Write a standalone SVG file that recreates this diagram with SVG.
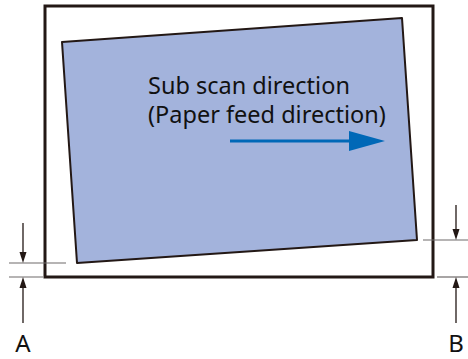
<svg xmlns="http://www.w3.org/2000/svg" width="468" height="359" viewBox="0 0 468 359">
<style>
.frame{fill:#fff;stroke:#231815;stroke-width:3}
.paper{fill:#a3b3dc;stroke:#231815;stroke-width:2;stroke-linejoin:round}
.ext{stroke:#6e6a6a;stroke-width:1.2;fill:none}
.dim{stroke:#231815;stroke-width:1.3;fill:none}
.ah{fill:#231815}
.t{font-family:"Noto Sans","Open Sans",sans-serif;font-size:23.5px;fill:#111}
.lbl{font-family:"Noto Sans","Open Sans",sans-serif;font-size:24px;fill:#111;text-anchor:middle}
</style>
<g id="frame"><rect class="frame" x="45" y="6" width="388" height="271"/></g>
<g id="paper"><polygon class="paper" points="62,42 402,18 417,240 77,263"/></g>
<g id="label">
<text class="t" x="148" y="94">Sub scan direction</text>
<text class="t" x="148" y="123">(Paper feed direction)</text>
</g>
<g id="feed-arrow">
<line x1="230" y1="141" x2="352" y2="141" stroke="#0068b7" stroke-width="3"/>
<polygon points="349,131 385,141 349,151" fill="#0068b7"/>
</g>
<g id="connectors">
<line class="ext" x1="9" y1="263" x2="66" y2="263"/>
<line class="ext" x1="9" y1="277" x2="43" y2="277"/>
<line class="dim" x1="23" y1="223" x2="23" y2="255"/>
<polygon class="ah" points="19.5,252 26.5,252 23,263"/>
<line class="dim" x1="23" y1="285" x2="23" y2="323"/>
<polygon class="ah" points="19.5,288 26.5,288 23,277"/>
<line class="ext" x1="423" y1="240" x2="468" y2="240"/>
<line class="ext" x1="437" y1="277" x2="468" y2="277"/>
<line class="dim" x1="456" y1="205" x2="456" y2="232"/>
<polygon class="ah" points="452.5,229 459.5,229 456,240"/>
<line class="dim" x1="456" y1="285" x2="456" y2="323"/>
<polygon class="ah" points="452.5,288 459.5,288 456,277"/>
</g>
<g id="labels">
<text class="lbl" x="23" y="352">A</text>
<text class="lbl" x="456" y="352">B</text>
</g>
</svg>
